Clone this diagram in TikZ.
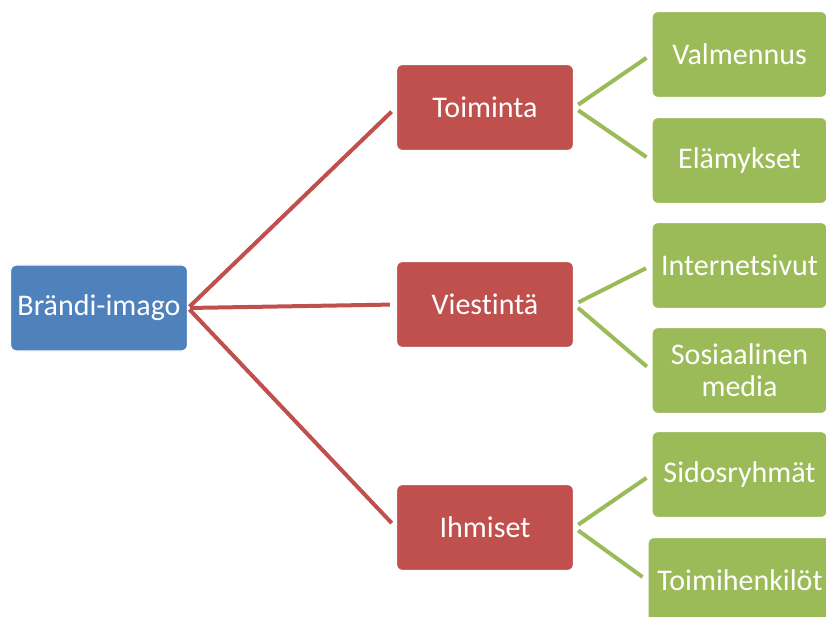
\documentclass[tikz,border=0pt]{standalone}
\usepackage{fontspec}
\setmainfont[Ligatures={NoCommon,NoRequired}]{Carlito}
\definecolor{rootblue}{HTML}{4F81BD}
\definecolor{midred}{HTML}{C0504D}
\definecolor{leafgreen}{HTML}{9BBB59}
\begin{document}
\begin{tikzpicture}[x=1pt,y=-1pt,
  box/.style={rectangle, rounded corners=6pt, draw=white, line width=1.2pt,
    text=white, align=center, inner sep=2pt,
    font=\fontsize{30}{32}\selectfont, minimum height=86pt},
  rootbox/.style={box, fill=rootblue, minimum width=177pt},
  midbox/.style={box, fill=midred, minimum width=177pt},
  leafbox/.style={box, fill=leafgreen, minimum width=175pt},
  redlink/.style={draw=midred, line width=4pt, shorten <=2pt, shorten >=6pt},
  greenlink/.style={draw=leafgreen, line width=4pt, shorten <=5pt, shorten >=6pt}]
\useasboundingbox (0,0) rectangle (826,617);
\begin{scope}
\clip (0,0) rectangle (826,617);
% root
\node[rootbox] (root) at (99,308) {Brändi-imago};
% middle level
\node[midbox] (toim) at (485,107.5) {Toiminta};
\node[midbox] (viest) at (485,304.5) {Viestintä};
\node[midbox] (ihm) at (485,527.5) {Ihmiset};
% leaves
\node[leafbox] (valm) at (739.5,54.5) {Valmennus};
\node[leafbox] (elam) at (739.5,160.5) {Elämykset};
\node[leafbox] (inet) at (739.5,265.5) {Internetsivut};
\node[leafbox] (some) at (739.5,370.5) {Sosiaalinen\\media};
\node[leafbox] (sido) at (739.5,474.5) {Sidosryhmät};
\node[leafbox, minimum width=184pt] (henk) at (740,580.5) {Toimihenkilöt};
% connectors
\draw[redlink] (root.east) -- (toim.west);
\draw[redlink] (root.east) -- (viest.west);
\draw[redlink] (root.east) -- (ihm.west);
\draw[greenlink] (toim.east) -- (valm.west);
\draw[greenlink] (toim.east) -- (elam.west);
\draw[greenlink] (viest.east) -- (inet.west);
\draw[greenlink] (viest.east) -- (some.west);
\draw[greenlink] (ihm.east) -- (sido.west);
\draw[greenlink] (ihm.east) -- (henk.west);
\end{scope}
\end{tikzpicture}
\end{document}
